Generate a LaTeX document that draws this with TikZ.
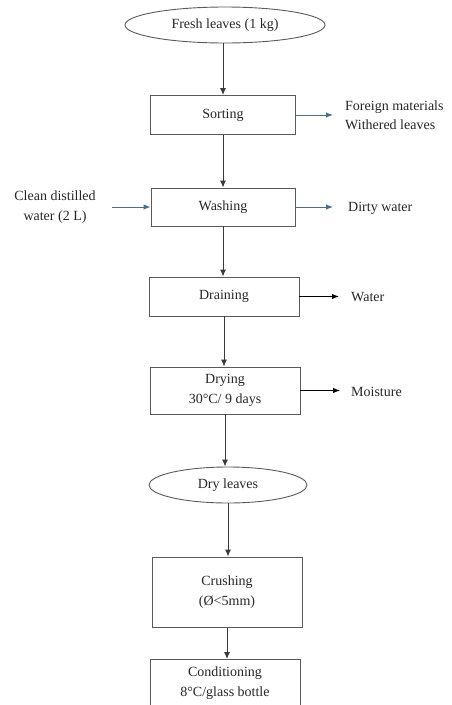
\documentclass[tikz,border=0pt]{standalone}
\usepackage{fontspec}
\setmainfont{Liberation Serif}
\usetikzlibrary{arrows.meta,shapes.geometric}
\definecolor{linegray}{HTML}{3A3A3A}
\definecolor{boxgray}{HTML}{5A5A5A}
\definecolor{textgray}{HTML}{262626}
\definecolor{steel}{HTML}{4A6D94}
\tikzset{
  stepbox/.style={draw=boxgray, line width=0.9pt, rectangle, inner sep=0pt, align=center},
  oval/.style={draw=boxgray, line width=0.9pt, ellipse, inner sep=0pt, align=center},
  side/.style={inner sep=0pt, align=left, anchor=west},
  flow/.style={draw=linegray, line width=1pt, -{Latex[length=7pt,width=6pt]}},
  bluearrow/.style={draw=steel, line width=1pt, -{Latex[length=7pt,width=5.5pt]}},
  blackarrow/.style={draw=black, line width=1pt, -{Latex[length=7pt,width=5.5pt]}},
}
\begin{document}
\begin{tikzpicture}[x=1pt,y=-1pt,font=\fontsize{14}{19.5}\selectfont,text=textgray]
\useasboundingbox (0,0) rectangle (451,705);
\clip (0,0) rectangle (451,705);
\node[oval, minimum width=200pt, minimum height=36pt] (fresh) at (225,25) {Fresh leaves (1 kg)};
\node[stepbox, minimum width=145pt, minimum height=39pt] (sort) at (223,115) {Sorting};
\node[stepbox, minimum width=144pt, minimum height=38pt] (wash) at (223,207) {Washing};
\node[stepbox, minimum width=150pt, minimum height=39pt] (drain) at (224,296.5) {Draining};
\node[stepbox, minimum width=150pt, minimum height=47pt] (dry) at (225,390.5) {Drying\\30°C/ 9 days};
\node[oval, minimum width=158pt, minimum height=36pt] (dryl) at (228,485) {Dry leaves};
\node[stepbox, minimum width=150pt, minimum height=70pt] (crush) at (227,592) {Crushing\\(Ø<5mm)};
\node[stepbox, minimum width=150pt, minimum height=52pt, anchor=north] (cond) at (225,659) {};
\node[align=center, inner sep=0pt] (condtext) at (225,683) {Conditioning\\8°C/glass bottle};

\node[side] (foreign) at (345,115) {Foreign materials\\Withered leaves};
\node[inner sep=0pt, align=center] (clean) at (55,207) {Clean distilled\\water (2 L)};
\node[side] (dirty) at (348,208) {Dirty water};
\node[side] (water) at (351,297) {Water};
\node[side] (moist) at (351,392) {Moisture};

\draw[flow] (fresh.south -| sort.north) -- (sort.north);
\draw[flow] (sort.south) -- (sort.south |- wash.north);
\draw[flow] (wash.south) -- (wash.south |- drain.north);
\draw[flow] (drain.south) -- (drain.south |- dry.north);
\draw[flow] (dry.south) -- (dry.south |- dryl.north);
\draw[flow] (dryl.south) -- (dryl.south |- crush.north);
\draw[flow] (crush.south) -- (crush.south |- cond.north);

\draw[bluearrow, shorten >=12pt] (sort.east) -- (sort.east -| foreign.west);
\draw[bluearrow, shorten <=16pt] (clean.east |- wash.west) -- (wash.west);
\draw[bluearrow, shorten >=15pt] (wash.east) -- (wash.east -| dirty.west);
\draw[blackarrow, shorten >=12pt] (drain.east) -- (drain.east -| water.west);
\draw[blackarrow, shorten >=11pt] (dry.east) -- (dry.east -| moist.west);
\end{tikzpicture}
\end{document}
